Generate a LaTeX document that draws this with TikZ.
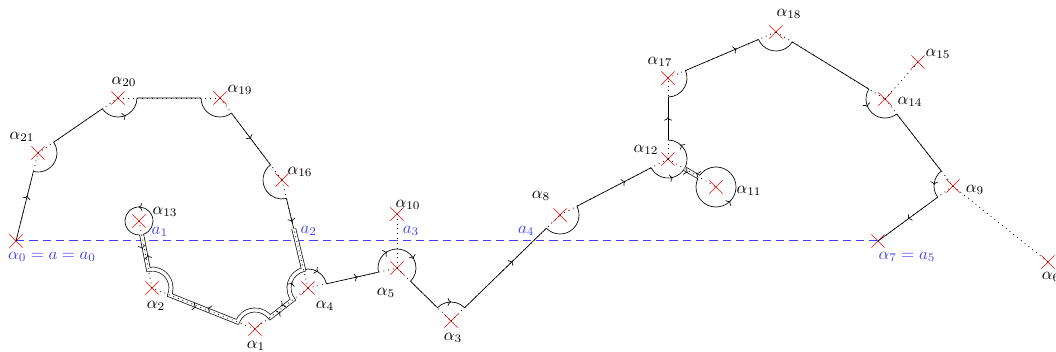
\documentclass[tikz,border=0pt]{standalone}
\usepackage{xcolor}
\usepackage{tikz}
\usetikzlibrary{calc, shapes.misc, decorations.markings, arrows.meta}
\definecolor{cutblue}{rgb}{0.25,0.25,0.95}

\newcommand{\arcd}{11.4pt}

\begin{document}
\begin{tikzpicture}[x=0.6pt, y=0.6pt,
    puncture/.style={cross out, draw=red, thin, minimum size=7.5pt, inner sep=0pt},
    lbl/.style={inner sep=0pt},
    cutlbl/.style={inner sep=0pt, text=cutblue},
    cut/.style={color=cutblue, line width=0.6pt, dash pattern=on 5pt off 3pt},
    tree/.style={line width=0.5pt, dash pattern=on 0.5pt off 2.4pt},
    tube/.style={thin, double=white, double distance=2pt},
    tip/.tip={To[length=2pt, width=4.6pt]},
    mid/.style={postaction={decorate, decoration={markings,
        mark=at position #1 with {\arrow{tip}}}}},
    outarr/.style={postaction={decorate, decoration={markings,
        mark=at position #1 with {\pgftransformyshift{-1.2pt}\arrow{tip}}}}},
    backarr/.style={postaction={decorate, decoration={markings,
        mark=at position #1 with {\pgftransformyshift{1.2pt}\arrowreversed{tip}}}}}]
  \useasboundingbox (0,0) rectangle (1056,-352);

  % punctures
  \foreach \n/\x/\y in {0/16/241, 1/255/329, 2/152/288, 3/451/321, 4/308/288,
      5/397/268, 6/1048/262, 7/878/241, 8/560/215, 9/953/186, 10/397/214,
      11/716/187, 12/668/159, 13/139/221, 14/885/99, 15/918/62, 16/282/180,
      17/668/78, 18/776/32, 19/220/98, 20/118/98, 21/38/153}
    \node[puncture] (al\n) at (\x,-\y) {};

  % the cut
  \draw[cut] (al0.center) -- (al7.center);
  \coordinate (c1) at (intersection of al0.center--al7.center and al2.center--al13.center);
  \coordinate (c2) at (intersection of al0.center--al7.center and al16.center--al4.center);
  \coordinate (c3) at (intersection of al0.center--al7.center and al10.center--al5.center);
  \coordinate (c4) at (intersection of al0.center--al7.center and al3.center--al8.center);

  % the loop
  \draw[mid=.65] (al0.center) -- ($(al21)!\arcd!(al0)$);
  \draw ($(al21)!\arcd!(al0)$) arc[start angle=-104, end angle=34.5, radius=19]
    -- ($(al20)!\arcd!(al21)$);
  \draw[mid=.55] ($(al20)!\arcd!(al21)$) arc[start angle=214.5, end angle=360, radius=19];
  \draw ($(al20)!\arcd!(al19)$) -- ($(al19)!\arcd!(al20)$)
    arc[start angle=180, end angle=307.1, radius=19];
  \draw[mid=.5] ($(al19)!\arcd!(al16)$) -- ($(al16)!\arcd!(al19)$);
  \draw ($(al16)!\arcd!(al19)$) arc[start angle=127.1, end angle=283.5, radius=19];
  \draw[mid=.33] ($(al16)!\arcd!(al4)$) -- ($(al4)!\arcd!(al16)$);
  \draw[mid=.5] ($(al4)!\arcd!(al16)$) arc[start angle=103.5, end angle=12.7, radius=19];
  \draw[mid=.6] ($(al4)!\arcd!(al5)$) -- ($(al5)!\arcd!(al4)$);
  \draw[mid=.3, mid=.69] ($(al5)!\arcd!(al4)$) arc[start angle=192.7, end angle=-44.5, radius=19];
  \draw ($(al5)!\arcd!(al3)$) -- ($(al3)!\arcd!(al5)$);
  \draw[mid=.5] ($(al3)!\arcd!(al5)$) arc[start angle=135.5, end angle=44.2, radius=19];
  \draw[mid=.59] ($(al3)!\arcd!(al8)$) -- ($(al8)!\arcd!(al3)$);
  \draw ($(al8)!\arcd!(al3)$) arc[start angle=224.2, end angle=387.4, radius=19];
  \draw[mid=.65] ($(al8)!\arcd!(al12)$) -- ($(al12)!\arcd!(al8)$);
  \draw[mid=.32, mid=.83] ($(al12)!\arcd!(al8)$) arc[start angle=207.4, end angle=450, radius=19];
  \draw[mid=.53] ($(al12)!\arcd!(al17)$) -- ($(al17)!\arcd!(al12)$);
  \draw ($(al17)!\arcd!(al12)$) arc[start angle=-90, end angle=23.1, radius=19];
  \draw[mid=.7] ($(al17)!\arcd!(al18)$) -- ($(al18)!\arcd!(al17)$);
  \draw ($(al18)!\arcd!(al17)$) arc[start angle=203.1, end angle=328.4, radius=19]
    -- ($(al14)!\arcd!(al18)$);
  \draw[mid=.35] ($(al14)!\arcd!(al18)$) arc[start angle=148.4, end angle=308, radius=19];
  \draw ($(al14)!\arcd!(al9)$) -- ($(al9)!\arcd!(al14)$);
  \draw[mid=.55] ($(al9)!\arcd!(al14)$) arc[start angle=128, end angle=216.3, radius=19];
  \draw[mid=.5] ($(al9)!\arcd!(al7)$) -- (al7.center);

  % lassos round alpha_13 and alpha_11
  \coordinate (t4) at ($(al16)!0.45!(al4)$);
  \draw[tube] (t4) -- ($(al4)!\arcd!(al16)$) arc[start angle=103.5, end angle=217.7, radius=19]
    -- ($(al1)!\arcd!(al4)$) arc[start angle=37.7, end angle=158.3, radius=19]
    -- ($(al2)!\arcd!(al1)$) arc[start angle=-21.7, end angle=101, radius=19]
    -- ($(al13)!8.3pt!(al2)$);
  \draw[mid=.47] ($(al13)+(289.2:14)$) arc[start angle=289.2, end angle=632.8, radius=14];
  \path[backarr=.5] ($(al4)!\arcd!(al16)$) arc[start angle=103.5, end angle=217.7, radius=19];
  \path[outarr=.45, backarr=.6] ($(al4)!\arcd!(al1)$) -- ($(al1)!\arcd!(al4)$);
  \path[outarr=.45, backarr=.6] ($(al1)!\arcd!(al2)$) -- ($(al2)!\arcd!(al1)$);
  \path[outarr=.4, backarr=.6] ($(al2)!\arcd!(al13)$) -- ($(al13)!8.3pt!(al2)$);

  \draw[tube] ($(al12)!\arcd!(al11)$) -- ($(al11)!11.94pt!(al12)$);
  \draw[mid=.46] ($(al11)+(155.4:20)$) arc[start angle=155.4, end angle=504, radius=20];
  \path[outarr=.3, backarr=.75] ($(al12)!\arcd!(al11)$) -- ($(al11)!11.94pt!(al12)$);

  % dotted arcs between the punctures
  \foreach \u/\v in {0/21, 21/20, 20/19, 19/16, 16/4, 4/5, 5/3, 3/8, 8/12, 12/17,
      17/18, 18/14, 14/9, 9/7, 4/1, 1/2, 2/13, 5/10, 12/11, 14/15, 9/6}
    \draw[tree] (al\u.center) -- (al\v.center);

  % labels
  \foreach \n/\dx/\dy in {1/1/-17, 2/4/-18, 3/2/-17, 4/17/-18, 5/-11/-25, 6/3/-15,
      8/-19/19, 9/22/-4, 10/11/9, 11/33/-4, 12/-22/9, 13/26/9, 14/25/-3,
      15/20/8, 16/18/8, 17/-8/16, 18/13/18, 19/20/8, 20/6/16, 21/-16/16}
    \node[lbl] (lab\n) at ($(al\n)+(\dx,\dy)$) {$\alpha_{\n}$};
  \node[cutlbl] (lab0) at ($(al0)+(36,-16)$) {$\alpha_0 = a = a_0$};
  \node[cutlbl] (lab7) at ($(al7)+(29,-16)$) {$\alpha_7 = a_5$};
  \node[cutlbl] (labc1) at ($(c1)+(17,9)$) {$a_1$};
  \node[cutlbl] (labc2) at ($(c2)+(12,10)$) {$a_2$};
  \node[cutlbl] (labc3) at ($(c3)+(14,10)$) {$a_3$};
  \node[cutlbl] (labc4) at ($(c4)+(-7,10)$) {$a_4$};
\end{tikzpicture}
\end{document}
